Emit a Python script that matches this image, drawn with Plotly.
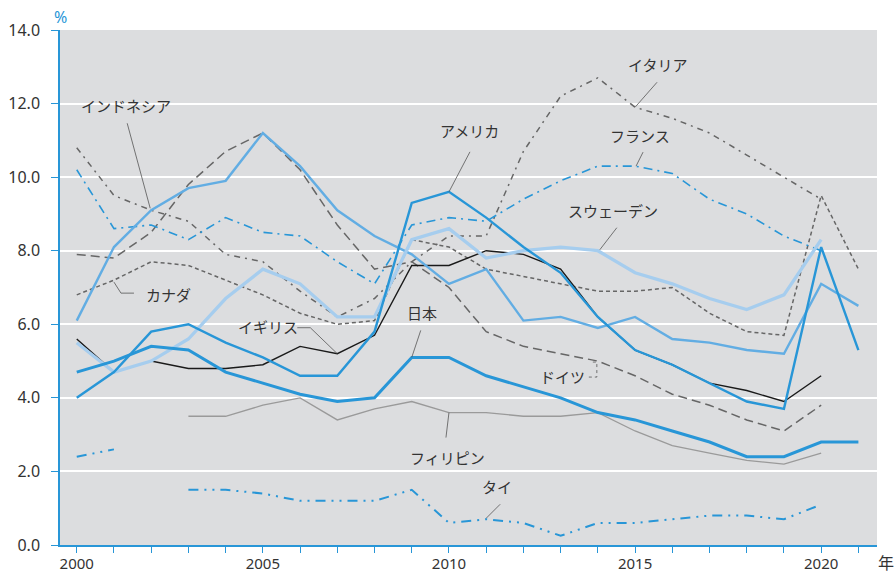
import plotly.graph_objects as go

years = list(range(2000, 2022))

usa = [4.0, 4.7, 5.8, 6.0, 5.5, 5.1, 4.6, 4.6, 5.8, 9.3, 9.6, 8.9, 8.1, 7.4, 6.2, 5.3, 4.9, 4.4, 3.9, 3.7, 8.1, 5.3]
japan = [4.7, 5.0, 5.4, 5.3, 4.7, 4.4, 4.1, 3.9, 4.0, 5.1, 5.1, 4.6, 4.3, 4.0, 3.6, 3.4, 3.1, 2.8, 2.4, 2.4, 2.8, 2.8]
indonesia = [6.1, 8.1, 9.1, 9.7, 9.9, 11.2, 10.3, 9.1, 8.4, 7.9, 7.1, 7.5, 6.1, 6.2, 5.9, 6.2, 5.6, 5.5, 5.3, 5.2, 7.1, 6.5]
sweden = [5.5, 4.7, 5.0, 5.6, 6.7, 7.5, 7.1, 6.2, 6.2, 8.3, 8.6, 7.8, 8.0, 8.1, 8.0, 7.4, 7.1, 6.7, 6.4, 6.8, 8.3, None]
uk = [5.6, 4.7, 5.0, 4.8, 4.8, 4.9, 5.4, 5.2, 5.7, 7.6, 7.6, 8.0, 7.9, 7.5, 6.2, 5.3, 4.9, 4.4, 4.2, 3.9, 4.6, None]
canada = [6.8, 7.2, 7.7, 7.6, 7.2, 6.8, 6.3, 6.0, 6.1, 8.3, 8.1, 7.5, 7.3, 7.1, 6.9, 6.9, 7.0, 6.3, 5.8, 5.7, 9.5, 7.5]
germany = [7.9, 7.8, 8.5, 9.8, 10.7, 11.2, 10.2, 8.7, 7.5, 7.7, 7.0, 5.8, 5.4, 5.2, 5.0, 4.6, 4.1, 3.8, 3.4, 3.1, 3.8, None]
italy = [10.8, 9.5, 9.1, 8.8, 7.9, 7.7, 6.9, 6.2, 6.7, 7.7, 8.4, 8.4, 10.7, 12.2, 12.7, 11.9, 11.6, 11.2, 10.6, 10.0, 9.4, None]
france = [10.2, 8.6, 8.7, 8.3, 8.9, 8.5, 8.4, 7.7, 7.1, 8.7, 8.9, 8.8, 9.4, 9.9, 10.3, 10.3, 10.1, 9.4, 9.0, 8.4, 8.0, None]
philippines = [None, None, None, 3.5, 3.5, 3.8, 4.0, 3.4, 3.7, 3.9, 3.6, 3.6, 3.5, 3.5, 3.6, 3.1, 2.7, 2.5, 2.3, 2.2, 2.5, None]
thailand = [2.4, 2.6, None, 1.5, 1.5, 1.4, 1.2, 1.2, 1.2, 1.5, 0.6, 0.7, 0.6, 0.25, 0.6, 0.6, 0.7, 0.8, 0.8, 0.7, 1.1, None]

y_ticks = [0, 2, 4, 6, 8, 10, 12, 14]
x_labels = [2000, 2005, 2010, 2015, 2020]

BLUE = "#2896d7"
MID = "#62ade3"
LIGHT = "#a6cdee"
GRAY = "#666666"
TEXT = "#333333"

series = [
    ("フィリピン", philippines, "#9a9a9a", 1.3, "solid"),
    ("タイ", thailand, BLUE, 2.0, "10px,6px,2px,6px,2px,6px"),
    ("カナダ", canada, GRAY, 1.5, "4px,3px"),
    ("ドイツ", germany, GRAY, 1.5, "9px,5px"),
    ("イタリア", italy, GRAY, 1.5, "6px,5px,2px,5px"),
    ("フランス", france, BLUE, 1.6, "9px,5px,2px,5px"),
    ("イギリス", uk, "#1a1a1a", 1.4, "solid"),
    ("インドネシア", indonesia, MID, 2.4, "solid"),
    ("スウェーデン", sweden, LIGHT, 3.3, "solid"),
    ("日本", japan, BLUE, 3.0, "solid"),
    ("アメリカ", usa, BLUE, 2.4, "solid"),
]

fig = go.Figure()
for name, vals, color, width, dash in series:
    fig.add_trace(go.Scatter(
        x=years, y=vals, mode="lines", name=name,
        line=dict(color=color, width=width, dash=dash),
        connectgaps=False, hoverinfo="skip",
    ))

# label text positions (data coords) and leader offsets in screen px (dx, dy down)
labels = [
    ("インドネシア", 2001.32, 11.96, 2002, indonesia, [(-1, -2), (-24, -87)], "solid"),
    ("アメリカ", 2010.54, 11.28, 2010, usa, [(0, 0), (21, -40)], "solid"),
    ("イタリア", 2015.59, 13.05, 2015, italy, [(0, 0), (22, -25)], "solid"),
    ("フランス", 2015.13, 11.14, 2015, france, [(1, 0), (8, -14)], "solid"),
    ("スウェーデン", 2014.41, 9.08, 2014, sweden, [(2, -1), (19, -23)], "solid"),
    ("カナダ", 2002.47, 6.80, 2001, canada, [(0, 2), (7, 13), (20, 13)], "solid"),
    ("イギリス", 2005.13, 5.93, 2007, uk, [(0, 0), (-27, -26), (-40, -26)], "solid"),
    ("日本", 2009.27, 6.33, 2009, japan, [(0, 0), (9, -27)], "solid"),
    ("ドイツ", 2013.04, 4.57, 2014, germany, [(-5, 1), (-1, 1), (-1, 16), (-12, 16)], "dot"),
    ("フィリピン", 2009.95, 2.39, 2010, philippines, [(0, 0), (-3, 25)], "solid"),
    ("タイ", 2011.29, 1.58, 2011, thailand, [(0, -1), (14, -15)], "solid"),
]

shapes = []
annotations = []
for text, tx, ty, yr, vals, pts, dash in labels:
    annotations.append(dict(
        x=tx, y=ty, xref="x", yref="y", text=text, showarrow=False,
        xanchor="center", yanchor="middle",
        font=dict(size=15, color=TEXT, family="Noto Sans CJK JP"),
    ))
    path = "M " + " L ".join(f"{dx},{-dy}" for dx, dy in pts)
    shapes.append(dict(
        type="path", xref="x", yref="y",
        xsizemode="pixel", ysizemode="pixel",
        xanchor=yr, yanchor=vals[years.index(yr)],
        path=path, line=dict(color="#555555", width=0.8, dash=dash),
        layer="above",
    ))

annotations.append(dict(x=0.001, y=1.025, xref="paper", yref="paper", text="%",
                        showarrow=False, xanchor="center", yanchor="middle",
                        font=dict(size=16, color=BLUE)))
annotations.append(dict(x=1.011, y=-0.033, xref="paper", yref="paper", text="年",
                        showarrow=False, xanchor="center", yanchor="middle",
                        font=dict(size=16, color=TEXT, family="Noto Sans CJK JP")))

fig.update_layout(
    width=894, height=575,
    margin=dict(l=60, r=17, t=30, b=30, autoexpand=False),
    paper_bgcolor="white", plot_bgcolor="#dcdddf",
    showlegend=False,
    font=dict(family="Noto Sans, Noto Sans CJK JP", size=16, color=TEXT),
    shapes=shapes, annotations=annotations,
)
fig.update_xaxes(
    range=[1999.55, 2021.5], tickvals=x_labels, ticktext=[str(v) for v in x_labels],
    ticks="outside", ticklen=6, tickcolor=BLUE, tickwidth=1.2,
    showline=True, linecolor=BLUE, linewidth=1.5, showgrid=False, zeroline=False,
    minor=dict(tickvals=years, ticks="outside", ticklen=6, tickcolor=BLUE, tickwidth=1.2, showgrid=False),
    tickfont=dict(size=15, color=TEXT), automargin=False, ticklabelstandoff=-2,
)
fig.update_yaxes(
    range=[0, 14], tickvals=y_ticks, tickformat=".1f",
    ticks="outside", ticklen=7, tickcolor=BLUE, tickwidth=1.2,
    showline=True, linecolor=BLUE, linewidth=1.5,
    showgrid=True, gridcolor="white", gridwidth=2, zeroline=False,
    tickfont=dict(size=16, color=TEXT), ticklabelstandoff=8, automargin=False,
)

fig.write_html("out.html", config={"displayModeBar": False},
               post_script="document.body.style.margin='0';")
